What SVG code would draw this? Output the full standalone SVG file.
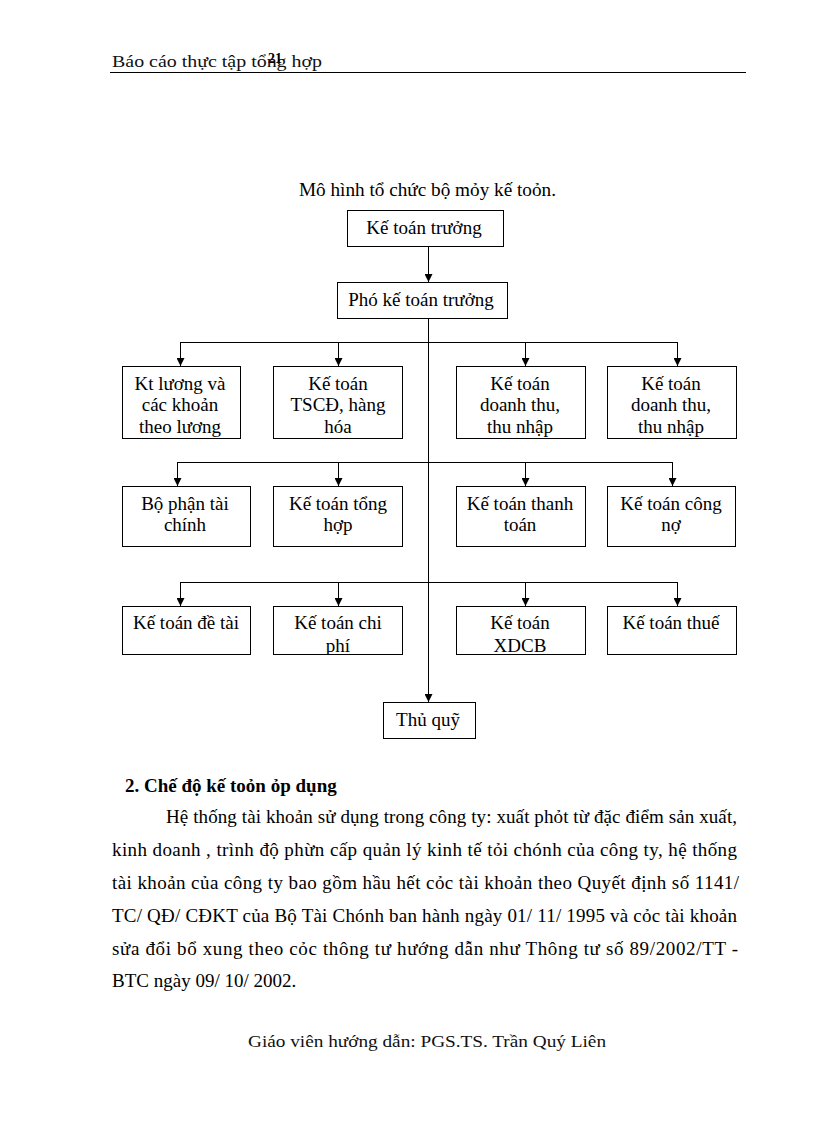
<svg xmlns="http://www.w3.org/2000/svg" width="816" height="1123" viewBox="0 0 816 1123">
<style>
.t{font-family:"Liberation Serif","Times New Roman",serif;font-size:19px;fill:#000}
.c{text-anchor:middle}
.box{fill:#fff;stroke:#000;stroke-width:1}
.ln{fill:none;stroke:#000;stroke-width:1}
.hd{font-family:"Liberation Serif",serif;font-size:16px;fill:#111}
</style>
<defs>
<marker id="ar" viewBox="0 0 8 8" refX="8" refY="4" markerWidth="8" markerHeight="8" markerUnits="userSpaceOnUse" orient="auto">
<path d="M0,0 L8,4 L0,8 Z" fill="#000"/>
</marker>
<clipPath id="c1"><rect x="122" y="366" width="118" height="72"/></clipPath>
<clipPath id="c32"><rect x="273" y="606" width="129" height="48"/></clipPath>
<clipPath id="c33"><rect x="456" y="606" width="129" height="48"/></clipPath>
</defs>
<rect width="816" height="1123" fill="#fff"/>
<g id="header">
<text class="hd" x="112" y="67" textLength="210" lengthAdjust="spacingAndGlyphs">Báo cáo thực tập tổng hợp</text>
<text x="268" y="63" font-family="Liberation Serif,serif" font-size="14" font-weight="bold">21</text>
<line x1="110" y1="72.5" x2="746" y2="72.5" stroke="#000" stroke-width="1"/>
</g>
<text class="t" x="299" y="196" textLength="257" lengthAdjust="spacingAndGlyphs">Mô hình tổ chức bộ mỏy kế toỏn.</text>
<g id="connectors">
<polyline class="ln" points="180.5,342.5 677.5,342.5"/>
<polyline class="ln" points="177.5,462.5 672.5,462.5"/>
<polyline class="ln" points="180.5,582.5 677.5,582.5"/>
<line class="ln" x1="428.5" y1="246" x2="428.5" y2="282" marker-end="url(#ar)"/>
<line class="ln" x1="428.5" y1="318" x2="428.5" y2="702" marker-end="url(#ar)"/>
<line class="ln" x1="180.5" y1="342" x2="180.5" y2="366" marker-end="url(#ar)"/>
<line class="ln" x1="338.5" y1="342" x2="338.5" y2="366" marker-end="url(#ar)"/>
<line class="ln" x1="525.5" y1="342" x2="525.5" y2="366" marker-end="url(#ar)"/>
<line class="ln" x1="677.5" y1="342" x2="677.5" y2="366" marker-end="url(#ar)"/>
<line class="ln" x1="177.5" y1="462" x2="177.5" y2="486" marker-end="url(#ar)"/>
<line class="ln" x1="338.5" y1="462" x2="338.5" y2="486" marker-end="url(#ar)"/>
<line class="ln" x1="525.5" y1="462" x2="525.5" y2="486" marker-end="url(#ar)"/>
<line class="ln" x1="672.5" y1="462" x2="672.5" y2="486" marker-end="url(#ar)"/>
<line class="ln" x1="180.5" y1="582" x2="180.5" y2="606" marker-end="url(#ar)"/>
<line class="ln" x1="338.5" y1="582" x2="338.5" y2="606" marker-end="url(#ar)"/>
<line class="ln" x1="525.5" y1="582" x2="525.5" y2="606" marker-end="url(#ar)"/>
<line class="ln" x1="677.5" y1="582" x2="677.5" y2="606" marker-end="url(#ar)"/>
</g>
<g id="n-ktt"><rect class="box" x="347.5" y="210.5" width="156" height="36"/><text class="t c" x="424" y="234">Kế toán trưởng</text></g>
<g id="n-pktt"><rect class="box" x="337.5" y="282.5" width="170" height="36"/><text class="t c" x="421" y="306">Phó kế toán trưởng</text></g>
<g id="n-r1a"><rect class="box" x="122.5" y="366.5" width="118" height="72"/><g clip-path="url(#c1)"><text class="t c" x="180" y="390">Kt lương và</text><text class="t c" x="180" y="411">các khoản</text><text class="t c" x="180" y="433">theo lương</text></g></g>
<g id="n-r1b"><rect class="box" x="273.5" y="366.5" width="129" height="72"/><text class="t c" x="338" y="390">Kế toán</text><text class="t c" x="338" y="411">TSCĐ, hàng</text><text class="t c" x="338" y="433">hóa</text></g>
<g id="n-r1c"><rect class="box" x="456.5" y="366.5" width="129" height="72"/><text class="t c" x="520" y="390">Kế toán</text><text class="t c" x="520" y="411">doanh thu,</text><text class="t c" x="520" y="433">thu nhập</text></g>
<g id="n-r1d"><rect class="box" x="607.5" y="366.5" width="129" height="72"/><text class="t c" x="671" y="390">Kế toán</text><text class="t c" x="671" y="411">doanh thu,</text><text class="t c" x="671" y="433">thu nhập</text></g>
<g id="n-r2a"><rect class="box" x="122.5" y="486.5" width="128" height="60"/><text class="t c" x="185" y="510">Bộ phận tài</text><text class="t c" x="185" y="531">chính</text></g>
<g id="n-r2b"><rect class="box" x="273.5" y="486.5" width="129" height="60"/><text class="t c" x="338" y="510">Kế toán tổng</text><text class="t c" x="338" y="531">hợp</text></g>
<g id="n-r2c"><rect class="box" x="456.5" y="486.5" width="129" height="60"/><text class="t c" x="520" y="510">Kế toán thanh</text><text class="t c" x="520" y="531">toán</text></g>
<g id="n-r2d"><rect class="box" x="607.5" y="486.5" width="128" height="60"/><text class="t c" x="671" y="510">Kế toán công</text><text class="t c" x="671" y="531">nợ</text></g>
<g id="n-r3a"><rect class="box" x="122.5" y="606.5" width="128" height="48"/><text class="t c" x="186" y="629">Kế toán đề tài</text></g>
<g id="n-r3b"><rect class="box" x="273.5" y="606.5" width="129" height="48"/><g clip-path="url(#c32)"><text class="t c" x="338" y="629">Kế toán chi</text><text class="t c" x="338" y="652">phí</text></g></g>
<g id="n-r3c"><rect class="box" x="456.5" y="606.5" width="129" height="48"/><g clip-path="url(#c33)"><text class="t c" x="520" y="629">Kế toán</text><text class="t c" x="520" y="652">XDCB</text></g></g>
<g id="n-r3d"><rect class="box" x="607.5" y="606.5" width="129" height="48"/><text class="t c" x="671" y="629">Kế toán thuế</text></g>
<g id="n-tq"><rect class="box" x="383.5" y="702.5" width="92" height="36"/><text class="t c" x="428" y="726">Thủ quỹ</text></g>
<g id="body">
<text class="t" x="125" y="792" font-weight="bold">2. Chế độ kế toỏn ỏp dụng</text>
<text class="t" x="166" y="823" textLength="571" lengthAdjust="spacing">Hệ thống tài khoản sử dụng trong công ty: xuất phỏt từ đặc điểm sản xuất,</text>
<text class="t" x="112" y="856" textLength="625" lengthAdjust="spacing">kinh  doanh , trình độ phừn cấp quản lý kinh tế tỏi chónh của công ty, hệ thống</text>
<text class="t" x="112" y="889" textLength="627" lengthAdjust="spacing">tài khoản của công ty bao gồm hầu hết cỏc tài khoản theo Quyết định số 1141/</text>
<text class="t" x="112" y="922" textLength="625" lengthAdjust="spacing">TC/ QĐ/ CĐKT của Bộ Tài Chónh ban hành ngày 01/ 11/ 1995 và cỏc tài khoản</text>
<text class="t" x="112" y="955" textLength="626" lengthAdjust="spacing">sửa đổi bổ xung theo cỏc thông tư hướng dẫn như Thông tư số 89/2002/TT -</text>
<text class="t" x="112" y="987">BTC ngày 09/ 10/ 2002.</text>
</g>
<text class="hd" x="248" y="1047" textLength="358" lengthAdjust="spacingAndGlyphs">Giáo viên hướng dẫn: PGS.TS. Trần Quý Liên</text>
</svg>
